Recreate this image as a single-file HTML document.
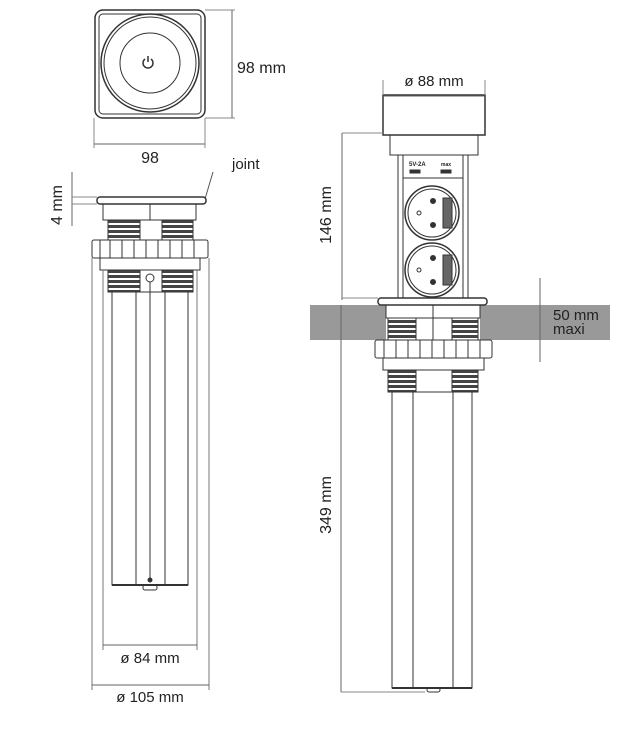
<!DOCTYPE html>
<html><head><style>body{margin:0;background:#fff}svg{display:block}text{font-family:"Liberation Sans",sans-serif;fill:#222}</style></head>
<body>
<svg width="620" height="732" viewBox="0 0 620 732" xmlns="http://www.w3.org/2000/svg">
<defs>
<pattern id="th" width="4" height="5" patternUnits="userSpaceOnUse"><rect width="4" height="5" fill="#fff"/><rect width="4" height="3" fill="#444"/></pattern>
</defs>
<g fill="none" stroke="#333" stroke-width="1">
<rect x="95" y="10" width="110" height="108" rx="8" stroke-width="1.5"/>
<rect x="99" y="14" width="102" height="100" rx="4"/>
<circle cx="150" cy="63" r="49" stroke-width="1.5"/>
<circle cx="150" cy="63" r="46"/>
<circle cx="150" cy="63" r="30"/>
<path d="M145 59 a5 5 0 1 0 6 0" stroke-width="1.5"/><line x1="148" y1="56" x2="148" y2="62" stroke-width="1.5"/>
<line x1="205" y1="10" x2="235" y2="10" stroke="#888"/><line x1="205" y1="118" x2="235" y2="118" stroke="#888"/>
<line x1="232" y1="10" x2="232" y2="118" stroke="#666"/>
<line x1="94" y1="118" x2="94" y2="148" stroke="#888"/><line x1="205" y1="118" x2="205" y2="148" stroke="#888"/>
<line x1="94" y1="144" x2="205" y2="144" stroke="#666"/>
<line x1="72" y1="172" x2="72" y2="226" stroke="#666"/>
<line x1="72" y1="197" x2="97" y2="197" stroke="#888"/><line x1="72" y1="204" x2="97" y2="204" stroke="#888"/>
<line x1="213" y1="172" x2="205" y2="199" stroke="#555"/>
<rect x="97" y="197" width="109" height="7" rx="3" stroke-width="1.5"/>
<rect x="103" y="204" width="93" height="16"/><line x1="150" y1="204" x2="150" y2="220"/>
<rect x="108" y="220" width="32" height="20" fill="url(#th)"/><rect x="162" y="220" width="31" height="20" fill="url(#th)"/>
<rect x="92" y="240" width="116" height="18" rx="2"/>
<path d="M100 240v18M110 240v18M122 240v18M134 240v18M146 240v18M158 240v18M170 240v18M182 240v18M194 240v18"/>
<rect x="100" y="258" width="100" height="12"/>
<rect x="108" y="270" width="32" height="22" fill="url(#th)"/><rect x="162" y="270" width="31" height="22" fill="url(#th)"/>
<circle cx="150" cy="278" r="4"/>
<rect x="112" y="292" width="76" height="293"/>
<path d="M136 292v293M165 292v293"/>
<line x1="150" y1="282" x2="150" y2="580"/>
<circle cx="150" cy="580" r="2" fill="#333"/>
<line x1="112" y1="585" x2="188" y2="585" stroke-width="2"/>
<rect x="143" y="585" width="14" height="5" rx="2"/>
<path d="M92 258v432M209 258v432M103 270v380M197 270v380" stroke="#777"/>
<line x1="103" y1="645" x2="197" y2="645" stroke="#666"/>
<line x1="92" y1="685" x2="209" y2="685" stroke="#666"/>
</g>
<rect x="310" y="305" width="76" height="35" fill="#999"/>
<rect x="480" y="305" width="130" height="35" fill="#999"/>
<g fill="none" stroke="#333" stroke-width="1">
<rect x="383" y="95" width="102" height="40" stroke-width="1.5"/>
<line x1="383" y1="96" x2="485" y2="96" stroke="#666"/>
<path d="M383 80v15M485 80v15" stroke="#888"/>
<rect x="390" y="135" width="88" height="20"/>
<rect x="398" y="155" width="70" height="143"/>
<rect x="403" y="155" width="60" height="143"/>
<line x1="403" y1="178" x2="463" y2="178"/>
<rect x="410" y="170" width="10" height="3" fill="#333"/><rect x="441" y="170" width="10" height="3" fill="#333"/>
<circle cx="432" cy="213" r="27" stroke-width="1.5"/><circle cx="432" cy="213" r="24"/>
<circle cx="432" cy="270" r="27" stroke-width="1.5"/><circle cx="432" cy="270" r="24"/>
<rect x="443" y="198" width="9" height="30" fill="#666"/><rect x="443" y="255" width="9" height="30" fill="#666"/>
<circle cx="433" cy="201" r="2.5" fill="#333"/><circle cx="433" cy="225" r="2.5" fill="#333"/><circle cx="419" cy="213" r="2"/>
<circle cx="433" cy="258" r="2.5" fill="#333"/><circle cx="433" cy="282" r="2.5" fill="#333"/><circle cx="419" cy="270" r="2"/>
<rect x="378" y="298" width="109" height="7" rx="3" stroke-width="1.5"/>
<rect x="386" y="305" width="94" height="13"/><line x1="433" y1="305" x2="433" y2="340"/>
<rect x="388" y="318" width="28" height="22" fill="url(#th)"/><rect x="452" y="318" width="26" height="22" fill="url(#th)"/>
<rect x="375" y="340" width="117" height="18" rx="2"/>
<path d="M384 340v18M396 340v18M408 340v18M420 340v18M432 340v18M444 340v18M456 340v18M468 340v18M480 340v18"/>
<rect x="383" y="358" width="101" height="12"/>
<rect x="388" y="370" width="28" height="22" fill="url(#th)"/><rect x="452" y="370" width="26" height="22" fill="url(#th)"/>
<rect x="392" y="392" width="80" height="296"/>
<path d="M413 392v296M453 392v296"/>
<line x1="392" y1="688" x2="472" y2="688" stroke-width="2"/>
<rect x="427" y="688" width="13" height="4" rx="2"/>
<line x1="342" y1="133" x2="342" y2="300" stroke="#666"/>
<line x1="342" y1="133" x2="383" y2="133" stroke="#888"/>
<line x1="342" y1="298" x2="378" y2="298" stroke="#888"/>
<line x1="341" y1="305" x2="341" y2="692" stroke="#666"/>
<line x1="341" y1="692" x2="425" y2="692" stroke="#888"/>
<line x1="540" y1="278" x2="540" y2="362" stroke="#666"/>
</g>
<text x="237" y="73" font-size="16">98 mm</text>
<text x="150" y="163" font-size="16" text-anchor="middle">98</text>
<text x="232" y="169" font-size="15">joint</text>
<text transform="translate(62,205) rotate(-90)" font-size="16" text-anchor="middle">4 mm</text>
<text x="150" y="663" font-size="15" text-anchor="middle">ø 84 mm</text>
<text x="150" y="702" font-size="15" text-anchor="middle">ø 105 mm</text>
<text x="434" y="86" font-size="15" text-anchor="middle">ø 88 mm</text>
<text transform="translate(331,215) rotate(-90)" font-size="16" text-anchor="middle">146 mm</text>
<text transform="translate(331,505) rotate(-90)" font-size="16" text-anchor="middle">349 mm</text>
<text x="553" y="320" font-size="15">50 mm</text>
<text x="553" y="334" font-size="15">maxi</text>
<text x="409" y="166" font-size="6" font-weight="bold">5V-2A</text>
<text x="441" y="166" font-size="5" font-weight="bold">max</text>
</svg>
</body></html>
